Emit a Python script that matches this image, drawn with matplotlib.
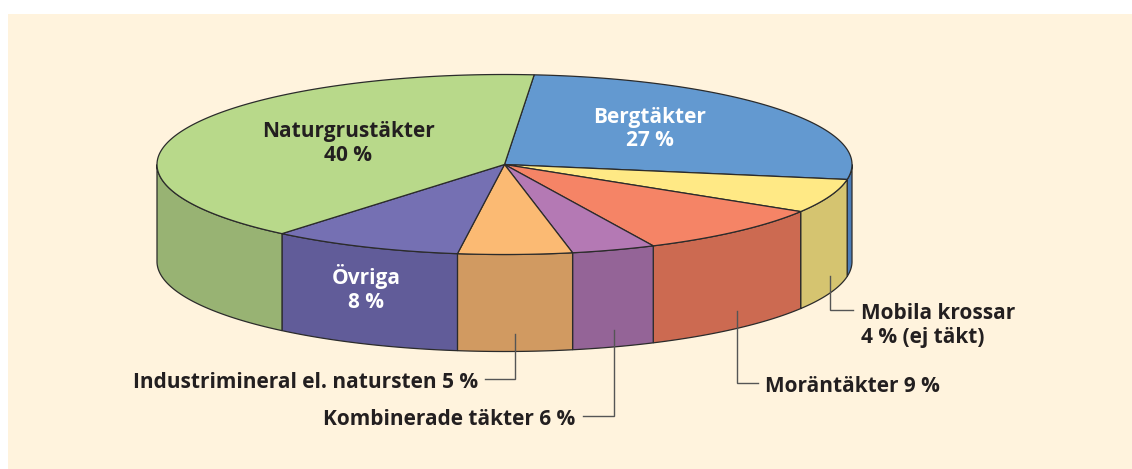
import numpy as np
import matplotlib
matplotlib.use("Agg")
import matplotlib.pyplot as plt
from matplotlib.patches import Polygon, Rectangle

# ---------------- data ----------------
categories = ["Bergtäkter", "Mobila krossar", "Moräntäkter", "Kombinerade täkter",
              "Industrimineral el. natursten", "Övriga", "Naturgrustäkter"]
label_pct = [27, 4, 9, 6, 5, 8, 40]              # values printed in the labels
drawn_share = [26.3, 6.1, 9.2, 3.9, 5.3, 8.9, 40.3]  # wedge sizes as drawn in the picture (%)
top_colors = ["#6399D0", "#FFE985", "#F58466", "#B479B4", "#FBBA73", "#7570B3", "#B8D98A"]
side_colors = ["#4C7DB8", "#D5C470", "#CC6A51", "#946497", "#D19A61", "#615C99", "#98B373"]

# ---------------- layout ----------------
W, H = 1132, 469
cx, cy, a, b, depth = 504.5, 164.5, 347.5, 90.0, 97.0
start_angle = 85.1
edge = "#2B2B2B"
txt = "#231F20"
FONT = "Open Sans"

fig = plt.figure(figsize=(W / 100, H / 100), dpi=100)
fig.patch.set_facecolor("white")
ax = fig.add_axes([0, 0, 1, 1])
ax.set_xlim(0, W)
ax.set_ylim(H, 0)
ax.axis("off")
ax.add_patch(Rectangle((8, 14), W - 8, H - 14, facecolor="#FFF3DD", edgecolor="none", zorder=0))


def ell(t_deg, dy=0.0):
    t = np.radians(t_deg)
    return cx + a * np.cos(t), cy - b * np.sin(t) + dy


bounds = start_angle - np.concatenate([[0], np.cumsum(drawn_share)]) * 3.6
mids = []
for i in range(len(drawn_share)):
    t1, t2 = bounds[i], bounds[i + 1]
    mids.append((t1 + t2) / 2)
    # side face (front half only, angles between -180 and 0)
    hi, lo = min(t1, 0.0), max(t2, -180.0)
    if hi > lo:
        ts = np.linspace(hi, lo, 80)
        xt, yt = ell(ts)
        xb, yb = ell(ts[::-1], depth)
        pts = np.column_stack([np.concatenate([xt, xb]), np.concatenate([yt, yb])])
        ax.add_patch(Polygon(pts, closed=True, facecolor=side_colors[i], edgecolor=edge,
                             linewidth=0.9, zorder=2))
for i in range(len(drawn_share)):
    t1, t2 = bounds[i], bounds[i + 1]
    ts = np.linspace(t1, t2, 200)
    xt, yt = ell(ts)
    pts = np.column_stack([np.concatenate([[cx], xt]), np.concatenate([[cy], yt])])
    ax.add_patch(Polygon(pts, closed=True, facecolor=top_colors[i], edgecolor=edge,
                         linewidth=0.9, zorder=3))

fs = 15.0
# labels inside the pie
inside = {6: (348, 137.3, 160.7, txt), 0: (650, 122.7, 146.0, "white"), 5: (366, 284.0, 308.3, "white")}
for i, (x, y1, y2, c) in inside.items():
    ax.text(x, y1, categories[i], ha="center", va="baseline", fontsize=fs, fontweight="bold",
            color=c, family=FONT, zorder=5)
    ax.text(x, y2, f"{label_pct[i]} %", ha="center", va="baseline", fontsize=fs,
            fontweight="bold", color=c, family=FONT, zorder=5)

# labels with leader lines
lead = "#555555"
def leader(i, y_h, x_end):
    xm, ytop = ell(mids[i])
    ax.plot([xm, xm, x_end], [ytop + 80, y_h, y_h], color=lead, lw=1.0, zorder=4,
            solid_joinstyle="miter")
    return xm

leader(4, 379.0, 485)
ax.text(478, 388, f"{categories[4]} {label_pct[4]} %", ha="right", va="baseline", fontsize=fs,
        fontweight="bold", color=txt, family=FONT)
leader(3, 415.7, 583)
ax.text(575, 425, f"{categories[3]} {label_pct[3]} %", ha="right", va="baseline", fontsize=fs,
        fontweight="bold", color=txt, family=FONT)
leader(2, 383.0, 758)
ax.text(765, 391.5, f"{categories[2]} {label_pct[2]} %", ha="left", va="baseline", fontsize=fs,
        fontweight="bold", color=txt, family=FONT)
leader(1, 310.3, 853)
ax.text(861, 318.7, categories[1], ha="left", va="baseline", fontsize=fs,
        fontweight="bold", color=txt, family=FONT)
ax.text(861, 343.3, f"{label_pct[1]} % (ej täkt)", ha="left", va="baseline", fontsize=fs,
        fontweight="bold", color=txt, family=FONT)

fig.savefig("out.png", dpi=100, facecolor=fig.get_facecolor())
